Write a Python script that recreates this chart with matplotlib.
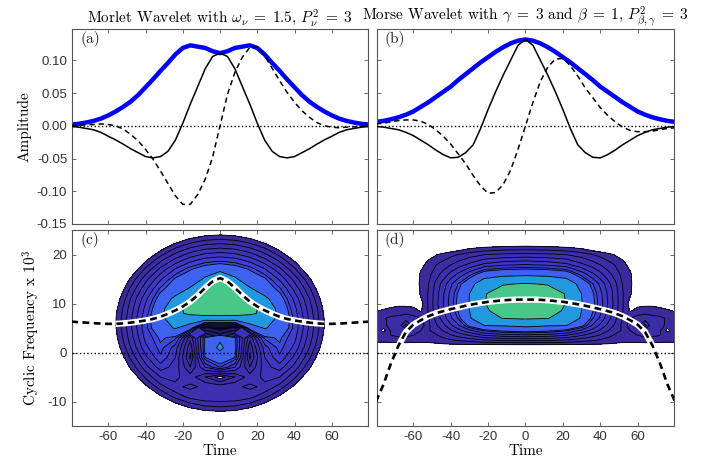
import numpy as np
import matplotlib.pyplot as plt

plt.rcParams['font.family'] = 'Liberation Sans'
plt.rcParams['mathtext.fontset'] = 'cm'
SERIF = 'cmr10'

# time axis of the wavelets (step 4)
time = np.arange(-80, 81, 4)

# (a) Morlet wavelet: modulus, real part, imaginary part
morlet_env = [.002, .003, .005, .0075, .011, .016, .022, .029, .037, .047, .059, .071, .084, .096, .109, .119, .123, .121, .119, .114,
              .111,
              .114, .119, .121, .123, .119, .109, .096, .084, .071, .059, .047, .037, .029, .022, .016, .011, .0075, .005, .003, .002]
morlet_real = [-.001, -.002, -.004, -.006, -.010, -.016, -.0216, -.028, -.035, -.041, -.047, -.049, -.047, -.039, -.022, .004, .033, .060, .087, .106,
               .111,
               .106, .087, .060, .033, .004, -.022, -.039, -.047, -.049, -.047, -.041, -.035, -.028, -.0216, -.016, -.010, -.006, -.004, -.002, -.001]
morlet_imag = [.0005, .001, .0015, .002, .003, .002, .000, -.005, -.013, -.023, -.036, -.051, -.069, -.088, -.107, -.120, -.120, -.105, -.082, -.048,
               0.0,
               .048, .082, .105, .120, .120, .107, .088, .069, .051, .036, .023, .013, .005, .000, -.002, -.003, -.002, -.0015, -.001, -.0005]

# (b) Morse wavelet
morse_env = [.006, .0075, .010, .013, .017, .022, .029, .036, .044, .052, .060, .070, .079, .088, .097, .105, .113, .120, .126, .130,
             .132,
             .130, .126, .120, .113, .105, .097, .088, .079, .070, .060, .052, .044, .036, .029, .022, .017, .013, .010, .0075, .006]
morse_real = [-.001, -.002, -.004, -.006, -.010, -.015, -.022, -.029, -.037, -.044, -.049, -.048, -.041, -.029, -.004, .025, .052, .077, .100, .123,
              .132,
              .123, .100, .077, .052, .025, -.004, -.029, -.041, -.048, -.049, -.044, -.037, -.029, -.022, -.015, -.010, -.006, -.004, -.002, -.001]
morse_imag = [.003, .004, .006, .008, .009, .009, .007, .002, -.006, -.016, -.028, -.043, -.058, -.076, -.092, -.103, -.102, -.090, -.068, -.036,
              0.0,
              .036, .068, .090, .102, .103, .092, .076, .058, .043, .028, .016, .006, -.002, -.007, -.009, -.009, -.008, -.006, -.004, -.003]

# instantaneous frequency (x 10^3)
morlet_if = [6.3, 6.2, 6.1, 6.0, 5.9, 5.85, 5.85, 5.95, 6.1, 6.3, 6.55, 6.85, 7.3, 7.9, 8.6, 9.4, 10.4, 11.7, 13.2, 14.5,
             15.2,
             14.5, 13.2, 11.7, 10.4, 9.4, 8.6, 7.9, 7.3, 6.85, 6.55, 6.3, 6.1, 5.95, 5.85, 5.85, 5.9, 6.0, 6.1, 6.2, 6.3]
morse_if = [-10.0, -6.5, -2.2, 1.4, 4.2, 5.7, 6.6, 7.4, 8.0, 8.45, 8.85, 9.2, 9.55, 9.85, 10.1, 10.35, 10.5, 10.65, 10.75, 10.8,
            10.8,
            10.8, 10.75, 10.65, 10.5, 10.35, 10.1, 9.85, 9.55, 9.2, 8.85, 8.45, 8.0, 7.4, 6.6, 5.7, 4.2, 1.4, -2.2, -6.5, -10.0]
# span where the frequency curve lies on the coloured area
morlet_if_span = (-56, 56)
morse_if_span = (-68, 68)

# (c) distribution, band index
wc_time = [-64, -56, -48, -40, -32, -24, -16, -8, 0, 8, 16, 24, 32, 40, 48, 56, 64]
wc_freq = [-15, -13, -11, -9, -7, -5, -3, -1, 1, 3, 5, 7, 8, 9, 11, 13, 15, 17, 19, 21, 23, 25]
wc = [
    [-12.7, -10.7, -9.0, -7.4, -6.0, -4.9, -4.0, -3.5, -3.3, -3.5, -4.0, -4.9, -6.0, -7.4, -9.0, -10.7, -12.7],
    [-11.1, -9.1, -7.2, -5.5, -4.0, -2.8, -1.9, -1.3, -1.1, -1.3, -1.9, -2.8, -4.0, -5.5, -7.2, -9.1, -11.1],
    [-9.7, -7.5, -5.5, -3.7, -2.1, -0.7, 0.3, 0.9, 1.1, 0.9, 0.3, -0.7, -2.1, -3.7, -5.5, -7.5, -9.7],
    [-8.3, -6.0, -3.9, -2.0, -0.2, 1.3, 2.4, 2.9, 2.9, 2.9, 2.4, 1.3, -0.2, -2.0, -3.9, -6.0, -8.3],
    [-7.0, -4.7, -2.4, -0.3, 1.6, 2.8, 3.2, 2.8, 2.6, 2.8, 3.2, 2.8, 1.6, -0.3, -2.4, -4.7, -7.0],
    [-5.9, -3.4, -1.1, 1.2, 3.0, 3.2, 2.5, 1.0, -0.5, 1.0, 2.5, 3.2, 3.0, 1.2, -1.1, -3.4, -5.9],
    [-5.0, -2.4, 0.2, 2.6, 4.5, 3.6, 1.0, 4.0, 6.0, 4.0, 1.0, 3.6, 4.5, 2.6, 0.2, -2.4, -5.0],
    [-4.1, -1.5, 1.2, 3.7, 5.8, 4.0, -0.2, 6.6, 7.8, 6.6, -0.2, 4.0, 5.8, 3.7, 1.2, -1.5, -4.1],
    [-3.5, -0.8, 2.0, 4.7, 6.4, 4.5, 0.3, 7.0, 9.6, 7.0, 0.3, 4.5, 6.4, 4.7, 2.0, -0.8, -3.5],
    [-3.1, -0.3, 2.5, 5.3, 6.8, 6.2, 1.2, 6.8, 8.5, 6.8, 1.2, 6.2, 6.8, 5.3, 2.5, -0.3, -3.1],
    [-2.9, -0.05, 2.8, 5.7, 8.0, 9.2, 7.5, 0.3, 1.0, 0.3, 7.5, 9.2, 8.0, 5.7, 2.8, -0.05, -2.9],
    [-2.9, -0.05, 2.8, 5.7, 8.5, 10.2, 11.0, 11.3, 11.3, 11.3, 11.0, 10.2, 8.5, 5.7, 2.8, -0.05, -2.9],
    [-3.0, -0.15, 2.65, 5.5, 8.3, 11.5, 12.4, 12.6, 12.6, 12.6, 12.4, 11.5, 8.3, 5.5, 2.65, -0.15, -3.0],
    [-3.1, -0.3, 2.5, 5.3, 8.1, 11.2, 12.8, 13.3, 13.5, 13.3, 12.8, 11.2, 8.1, 5.3, 2.5, -0.3, -3.1],
    [-3.5, -0.8, 2.0, 4.7, 7.3, 9.6, 10.8, 13.5, 14.3, 13.5, 10.8, 9.6, 7.3, 4.7, 2.0, -0.8, -3.5],
    [-4.1, -1.5, 1.2, 3.7, 6.2, 7.6, 9.3, 12.2, 14.0, 12.2, 9.3, 7.6, 6.2, 3.7, 1.2, -1.5, -4.1],
    [-5.0, -2.4, 0.2, 2.6, 4.8, 6.8, 7.4, 9.4, 12.3, 9.4, 7.4, 6.8, 4.8, 2.6, 0.2, -2.4, -5.0],
    [-5.9, -3.4, -1.1, 1.2, 3.3, 5.1, 6.5, 7.45, 8.0, 7.45, 6.5, 5.1, 3.3, 1.2, -1.1, -3.4, -5.9],
    [-7.0, -4.7, -2.4, -0.3, 1.6, 3.2, 4.47, 5.28, 5.56, 5.28, 4.47, 3.2, 1.6, -0.3, -2.4, -4.7, -7.0],
    [-8.3, -6.0, -3.9, -2.0, -0.2, 1.3, 2.4, 3.1, 3.34, 3.1, 2.4, 1.3, -0.2, -2.0, -3.9, -6.0, -8.3],
    [-9.7, -7.5, -5.5, -3.7, -2.1, -0.7, 0.3, 0.9, 1.1, 0.9, 0.3, -0.7, -2.1, -3.7, -5.5, -7.5, -9.7],
    [-11.1, -9.1, -7.2, -5.5, -4.0, -2.8, -1.9, -1.3, -1.1, -1.3, -1.9, -2.8, -4.0, -5.5, -7.2, -9.1, -11.1],
]

# (d) distribution
wd_time = [-80, -76, -72, -68, -64, -60, -56, -52, -48, -44, -40, -36, -30, -22, -12, 0,
           12, 22, 30, 36, 40, 44, 48, 52, 56, 60, 64, 68, 72, 76, 80]
wd_freq = [0, 1.5, 2.5, 3.5, 4.5, 5.5, 7, 8.5, 10, 12, 14, 16, 18, 20, 22, 24]
wd = [
    [-3.8] * 31,
    [-0.5, -0.5, -0.5, -0.5, -0.5, -0.5, -0.4, -0.35, -0.3, -0.25, -0.25, -0.25, -0.25, -0.25, -0.25, -0.25, -0.25, -0.25, -0.25, -0.25, -0.25, -0.25, -0.3, -0.35, -0.4, -0.5, -0.5, -0.5, -0.5, -0.5, -0.5],
    [0.3, 0.3, 0.4, 0.5, 0.5, 0.4, 0.3, 0.3, 0.41, 0.63, 0.86, 1.1, 1.43, 1.87, 2.09, 2.2, 2.09, 1.87, 1.43, 1.1, 0.86, 0.63, 0.41, 0.3, 0.3, 0.4, 0.5, 0.5, 0.4, 0.3, 0.3],
    [0.6, 0.7, 1.0, 1.2, 1.2, 1.0, 0.7, 0.6, 0.87, 1.34, 1.85, 2.35, 3.06, 4.0, 4.47, 4.7, 4.47, 4.0, 3.06, 2.35, 1.85, 1.34, 0.87, 0.6, 0.7, 1.0, 1.2, 1.2, 1.0, 0.7, 0.6],
    [0.8, -0.4, 1.2, 1.8, 1.8, 1.6, 1.0, 0.9, 1.36, 2.09, 2.87, 3.65, 4.75, 6.21, 6.94, 7.3, 6.94, 6.21, 4.75, 3.65, 2.87, 2.09, 1.36, 0.9, 1.0, 1.6, 1.8, 1.8, 1.2, -0.4, 0.8],
    [1.0, 0.6, 1.5, 1.8, -0.4, 1.8, 1.2, 0.75, 1.79, 2.74, 3.77, 4.8, 7.0, 9.0, 9.12, 9.6, 9.12, 9.0, 7.0, 4.8, 3.77, 2.74, 1.79, 0.75, 1.2, 1.8, -0.4, 1.8, 1.5, 0.6, 1.0],
    [0.4, 0.9, 1.2, 1.3, 1.6, 1.4, 1.0, 0.96, 2.27, 3.49, 4.79, 6.1, 8.8, 10.6, 12.1, 12.3, 12.1, 10.6, 8.8, 6.1, 4.79, 3.49, 2.27, 0.96, 1.0, 1.4, 1.6, 1.3, 1.2, 0.9, 0.4],
    [-0.1, 0.2, 0.4, 0.5, 0.5, 0.3, -0.1, 1.05, 2.49, 3.83, 5.27, 6.7, 9.0, 11.6, 13.0, 13.4, 13.0, 11.6, 9.0, 6.7, 5.27, 3.83, 2.49, 1.05, -0.1, 0.3, 0.5, 0.5, 0.4, 0.2, -0.1],
    [-1.2, -0.8, -0.5, -0.3, -0.3, -0.3, -0.4, 1.1, 2.6, 4.0, 5.5, 7.0, 9.1, 11.9, 13.6, 14.0, 13.6, 11.9, 9.1, 7.0, 5.5, 4.0, 2.6, 1.1, -0.4, -0.3, -0.3, -0.3, -0.5, -0.8, -1.2],
    [-6.0, -5.0, -4.0, -3.0, -2.0, -1.2, 0.2, 1.07, 2.53, 3.89, 5.34, 6.8, 9.0, 11.8, 13.4, 13.8, 13.4, 11.8, 9.0, 6.8, 5.34, 3.89, 2.53, 1.07, 0.2, -1.2, -2.0, -3.0, -4.0, -5.0, -6.0],
    [-6.0, -5.0, -4.0, -3.0, -2.0, -1.0, 0.3, 0.95, 2.25, 3.46, 4.76, 6.05, 8.0, 10.8, 11.8, 12.2, 11.8, 10.8, 8.0, 6.05, 4.76, 3.46, 2.25, 0.95, 0.3, -1.0, -2.0, -3.0, -4.0, -5.0, -6.0],
    [-6.0, -5.0, -4.0, -3.0, -2.0, -1.0, 0.2, 0.66, 1.56, 2.4, 3.3, 4.2, 5.6, 7.6, 8.2, 8.4, 8.2, 7.6, 5.6, 4.2, 3.3, 2.4, 1.56, 0.66, 0.2, -1.0, -2.0, -3.0, -4.0, -5.0, -6.0],
    [-9.3, -7.8, -6.3, -4.8, -3.3, -1.8, -0.4, 0.39, 0.91, 1.4, 1.93, 2.45, 3.19, 4.17, 4.66, 4.9, 4.66, 4.17, 3.19, 2.45, 1.93, 1.4, 0.91, 0.39, -0.4, -1.8, -3.3, -4.8, -6.3, -7.8, -9.3],
    [-9.3, -7.8, -6.3, -4.8, -3.3, -1.8, -1.0, -0.5, -0.1, 0.35, 0.7, 1.0, 1.5, 1.96, 2.19, 2.3, 2.19, 1.96, 1.5, 1.0, 0.7, 0.35, -0.1, -0.5, -1.0, -1.8, -3.3, -4.8, -6.3, -7.8, -9.3],
    [-9.3, -7.8, -6.3, -4.8, -3.3, -3.0, -3.0, -3.0, -2.8, -2.4, -2.0, -1.6, -1.0, -0.7, -0.5, -0.4, -0.5, -0.7, -1.0, -1.6, -2.0, -2.4, -2.8, -3.0, -3.0, -3.0, -3.3, -4.8, -6.3, -7.8, -9.3],
    [-9.3, -7.8, -6.3, -4.8, -3.3, -3.0, -3.0, -3.0, -3.0, -3.0, -3.0, -3.0, -3.0, -3.0, -3.0, -3.0, -3.0, -3.0, -3.0, -3.0, -3.0, -3.0, -3.0, -3.0, -3.0, -3.0, -3.3, -4.8, -6.3, -7.8, -9.3],
]

band_levels = [0, 1, 2, 3, 4, 5, 6, 6.6, 9, 12, 40]
band_colors = ['#3a2a9c', '#3b2da6', '#3c30b0', '#3d33ba', '#3e37c4', '#3e3dcf',
               '#3d47dc', '#3c62ef', '#2298e0', '#48c78b']

amp_ticks = [0.10, 0.05, 0.00, -0.05, -0.10, -0.15]
amp_labels = ['0.10', '0.05', '0.00', '-0.05', '-0.10', '-0.15']
freq_ticks = [20, 10, 0, -10]
freq_labels = ['20', '10', '0', '-10']
time_ticks = [-60, -40, -20, 0, 20, 40, 60]
time_labels = ['-60', '-40', '-20', '0', '20', '40', '60']


def style_axis(ax):
    ax.set_xlim(-79.5, 79.5)
    ax.set_xticks(time_ticks)
    ax.tick_params(direction='in', top=True, right=True, length=3, width=0.6,
                   color='#555555', labelcolor='#333333', labelsize=9.5)
    for sp in ax.spines.values():
        sp.set_color('#555555')
        sp.set_linewidth(0.8)


def panel_tag(ax, txt):
    ax.text(0.027, 0.99, txt, transform=ax.transAxes, ha='left', va='top',
            family=SERIF, fontsize=11, color='#222222')


def draw_wavelet(ax, env, real, imag):
    ax.axhline(0, color='k', ls=':', lw=1.0, zorder=1)
    ax.plot(time, env, color='#0000ff', lw=3.2, zorder=2)
    ax.plot(time, real, color='k', lw=1.1, zorder=3)
    ax.plot(time, imag, color='k', lw=1.1, dashes=(3.5, 2.5), zorder=3)
    ax.set_ylim(-0.15, 0.148)
    ax.set_yticks(amp_ticks)
    style_axis(ax)
    ax.set_xticklabels([])


def draw_distribution(ax, wt, wf, w, inst_f, span):
    z = np.array(w)
    ax.contourf(wt, wf, z, levels=band_levels, colors=band_colors, zorder=1)
    ax.contour(wt, wf, z, levels=band_levels[:-1], colors='k', linewidths=0.6, zorder=2)
    ax.axhline(0, color='k', ls=':', lw=1.0, zorder=3)
    f = np.array(inst_f)
    keep = (time >= span[0]) & (time <= span[1])
    ax.plot(time[keep], f[keep], color='white', lw=4.5, solid_capstyle='butt', zorder=4)
    ax.plot(time, f, color='k', lw=1.9, dashes=(2.6, 1.7), zorder=5)
    ax.set_ylim(-15, 25)
    ax.set_yticks(freq_ticks)
    style_axis(ax)
    ax.set_xticklabels(time_labels)
    ax.set_xlabel('Time', family=SERIF, fontsize=11, labelpad=1)


fig = plt.figure(figsize=(7.02, 4.68), dpi=100)
ax_a = fig.add_axes([0.1026, 0.5214, 0.4217, 0.4167])
ax_b = fig.add_axes([0.537, 0.5214, 0.4231, 0.4167])
ax_c = fig.add_axes([0.1026, 0.0897, 0.4217, 0.4188])
ax_d = fig.add_axes([0.537, 0.0897, 0.4231, 0.4188])

draw_wavelet(ax_a, morlet_env, morlet_real, morlet_imag)
ax_a.set_yticklabels(amp_labels)
ax_a.set_ylabel('Amplitude', family=SERIF, fontsize=11)
ax_a.set_title(r'Morlet Wavelet with $\omega_\nu \;=\; 1.5$, $P_\nu^2 \;=\; 3$',
               family=SERIF, fontsize=11, pad=4)
panel_tag(ax_a, '(a)')

draw_wavelet(ax_b, morse_env, morse_real, morse_imag)
ax_b.set_yticklabels([])
ax_b.set_title(r'Morse Wavelet with $\gamma \;=\; 3$ and $\beta \;=\; 1$, $P_{\beta,\gamma}^2 \;=\; 3$',
               family=SERIF, fontsize=11, pad=4)
panel_tag(ax_b, '(b)')

draw_distribution(ax_c, wc_time, wc_freq, wc, morlet_if, morlet_if_span)
ax_c.set_yticklabels(freq_labels)
ax_c.set_ylabel(r'Cyclic Frequency x 10$^3$', family=SERIF, fontsize=11)
panel_tag(ax_c, '(c)')

draw_distribution(ax_d, wd_time, wd_freq, wd, morse_if, morse_if_span)
ax_d.set_yticklabels([])
panel_tag(ax_d, '(d)')

fig.savefig('out.png', dpi=100)
